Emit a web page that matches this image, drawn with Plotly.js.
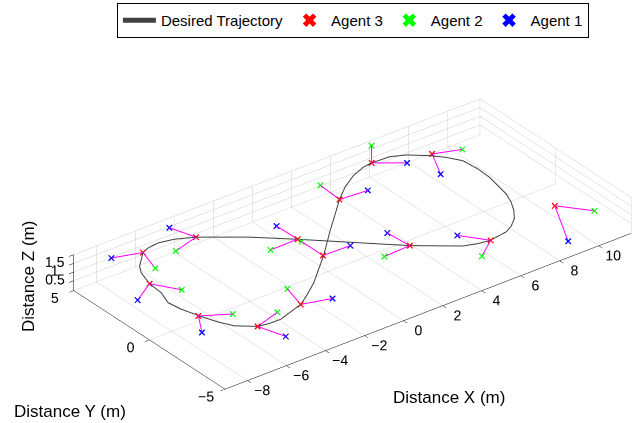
<!DOCTYPE html>
<html>
<head>
<meta charset="utf-8">
<script src="https://cdn.plot.ly/plotly-3.0.1.min.js"></script>
<style>html,body{margin:0;padding:0;background:#fff;}#chart{width:637px;height:423px;}</style>
</head>
<body>
<div id="chart"></div>
<script>
// Desired trajectory (figure-eight)
var trajX = [-4.13,-2.37,-0.97,2.35,4.04,4.58,5.16,6.14,6.58,7.06,7.45,7.77,8.02,8.30,8.34,8.26,7.89,7.44,6.73,6.11,5.21,4.73,4.00,3.16,2.36,1.54,0.56,-0.88,-2.59,-3.38,-4.08,-5.46,-6.04,-6.56,-7.28,-7.62,-7.89,-8.17,-8.27,-8.00,-7.93,-7.66,-7.39,-6.60,-6.22,-5.65,-4.93,-4.13];
var trajY = [3.40,2.06,0.79,-2.38,-3.70,-3.90,-4.02,-3.86,-3.62,-3.21,-2.67,-2.08,-1.42,0.04,0.86,1.75,2.36,2.88,3.49,3.79,3.84,3.77,3.48,2.95,2.29,1.50,0.57,-0.86,-2.40,-2.99,-3.46,-3.92,-3.91,-3.81,-3.20,-2.54,-1.79,-0.84,-0.09,0.70,1.56,2.46,2.92,3.72,3.88,3.96,3.80,3.40];
var trajZ = [1.25,1.25,1.25,1.25,1.25,1.25,1.25,1.25,1.25,1.25,1.25,1.25,1.25,1.25,1.25,1.25,1.25,1.25,1.25,1.25,1.25,1.25,1.25,1.25,1.25,1.25,1.25,1.25,1.25,1.25,1.25,1.25,1.25,1.25,1.25,1.25,1.25,1.25,1.25,1.25,1.25,1.25,1.25,1.25,1.25,1.25,1.25,1.25];

// Agent 3 (red)
var a3X = [-6.60,-7.93,-4.13,-7.95,-0.95,-0.94,-4.08,-6.56,2.36,5.21,7.60,2.35,5.22,10.07];
var a3Y = [3.72,1.56,3.40,-1.69,0.78,-0.88,-3.46,-3.81,2.29,3.84,2.93,-2.38,-4.02,-2.00];
var a3Z = [1.25,1.25,1.25,1.25,1.25,1.25,1.25,1.25,1.25,1.25,1.25,1.25,1.25,0.0];
// Agent 2 (green)
var a2X = [-6.98,-7.19,-5.47,-6.74,-2.35,-0.94,-3.74,-5.22,2.45,5.93,8.80,0.99,4.15,11.10];
var a2Y = [2.41,0.39,3.01,-2.41,0.76,0.53,-2.14,-3.39,3.66,4.78,2.48,-2.45,-4.82,-3.29];
var a2Z = [1.25,1.25,1.25,1.25,1.25,1.25,1.25,1.25,1.25,1.4,1.25,1.25,1.25,0.0];
// Agent 1 (blue)
var a1X = [-7.89,-8.91,-4.52,-8.65,-0.98,0.43,-2.76,-5.93,3.73,6.35,6.88,2.25,4.39,8.75];
var a1Y = [4.14,1.09,4.66,-2.83,2.14,-0.92,-3.86,-4.86,2.18,2.97,1.43,-1.02,-2.89,-4.59];
var a1Z = [1.25,1.0,1.25,1.25,1.25,1.25,1.25,1.0,1.25,1.25,1.25,1.25,1.25,0.0];

// Axis ticks
var xTicks = [-8,-6,-4,-2,0,2,4,6,8,10];
var yTicks = [-5,0,5];
var zTicks = [0,0.5,1,1.5];
var zTickText = ['','0.5','1','1.5'];

// Links from agent 3 to agents 2 and 1
var lx = [], ly = [], lz = [];
for (var i = 0; i < a3X.length; i++) {
  lx.push(a3X[i], a2X[i], null, a3X[i], a1X[i], null);
  ly.push(a3Y[i], a2Y[i], null, a3Y[i], a1Y[i], null);
  lz.push(a3Z[i], a2Z[i], null, a3Z[i], a1Z[i], null);
}

var FONT = 'Liberation Sans, Arial, Helvetica, sans-serif';
var traces = [
  {type:'scatter3d', mode:'lines', name:'Desired Trajectory', x:trajX, y:trajY, z:trajZ,
   line:{color:'#404040', width:2}},
  {type:'scatter3d', mode:'lines', name:'links', showlegend:false, x:lx, y:ly, z:lz,
   line:{color:'#ff00ff', width:2}, connectgaps:false, hoverinfo:'skip'},
  {type:'scatter3d', mode:'markers', name:'Agent 3', x:a3X, y:a3Y, z:a3Z,
   marker:{symbol:'x', color:'#ff0000', size:1.4}},
  {type:'scatter3d', mode:'markers', name:'Agent 2', x:a2X, y:a2Y, z:a2Z,
   marker:{symbol:'x', color:'#00ff00', size:1.4}},
  {type:'scatter3d', mode:'markers', name:'Agent 1', x:a1X, y:a1Y, z:a1Z,
   marker:{symbol:'x', color:'#0000ff', size:1.4}}
];

function ax(range, tv, tt) {
  var a = {range:range, autorange:false, tickvals:tv, showgrid:true, gridcolor:'#cccccc', gridwidth:1,
    showline:true, linecolor:'#000', linewidth:1, zeroline:false, showbackground:false,
    ticks:'outside', ticklen:6, tickcolor:'#000', showspikes:false, tickangle:0,
    tickfont:{family:FONT, size:13, color:'#000'}, title:{text:''}};
  if (tt) a.ticktext = tt;
  return a;
}

var s = 2.86;
var dir = [-0.527, -0.687, 0.5];
var dist = 10;
var ctr = [-0.1507, 0.1156, 0];
var layout = {
  width:637, height:423, margin:{l:0,r:0,t:0,b:0}, paper_bgcolor:'#fff',
  font:{family:FONT, color:'#000'},
  showlegend:true,
  legend:{orientation:'h', x:0.554, xanchor:'center', y:0.993, yanchor:'top', itemwidth:33,
    itemsizing:'constant',
    bordercolor:'#000', borderwidth:1, bgcolor:'#fff', font:{family:FONT, size:15, color:'#000'}},
  scene:{
    domain:{x:[0,1], y:[0,0.8463]},
    xaxis:ax([-9.15,11.66], xTicks),
    yaxis:ax([-5,5], yTicks),
    zaxis:ax([-0.57,1.5], zTicks, zTickText),
    aspectmode:'manual', aspectratio:{x:1*s, y:0.4853*s, z:0.0811*s},
    camera:{eye:{x:ctr[0]+dist*dir[0], y:ctr[1]+dist*dir[1], z:ctr[2]+dist*dir[2]}, up:{x:0,y:0,z:1},
      center:{x:ctr[0], y:ctr[1], z:ctr[2]},
      projection:{type:'orthographic'}}
  },
  annotations:[
    {text:'Distance X (m)', xref:'paper', yref:'paper', x:0.7046, y:0.0598, xanchor:'center', yanchor:'middle', showarrow:false, font:{family:FONT, size:17}},
    {text:'Distance Y (m)', xref:'paper', yref:'paper', x:0.1094, y:0.0267, xanchor:'center', yanchor:'middle', showarrow:false, font:{family:FONT, size:17}},
    {text:'Distance Z (m)', xref:'paper', yref:'paper', x:0.044, y:0.345, xanchor:'center', yanchor:'middle', textangle:-90, showarrow:false, font:{family:FONT, size:17}}
  ]
};
Plotly.newPlot('chart', traces, layout, {displayModeBar:false});
</script>
</body>
</html>
